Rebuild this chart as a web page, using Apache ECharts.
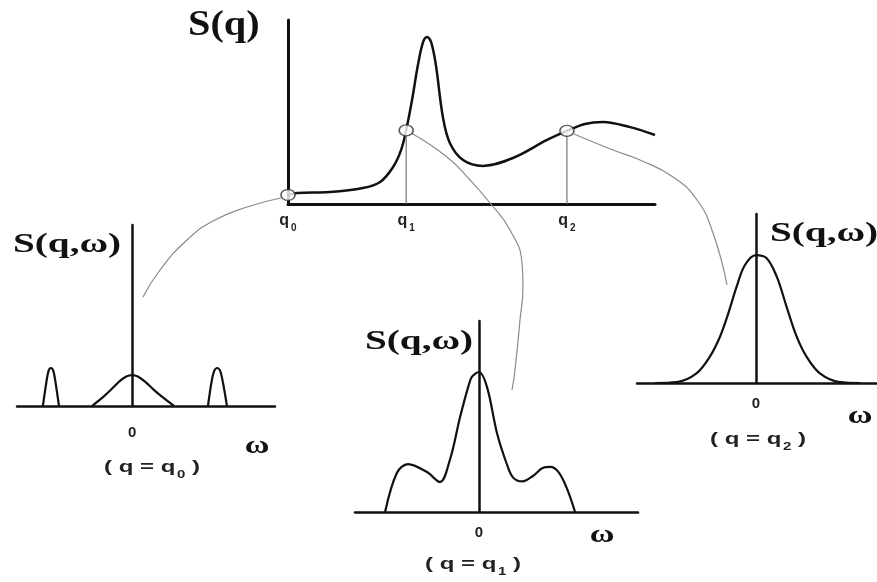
<!DOCTYPE html>
<html>
<head>
<meta charset="utf-8">
<title>S(q) and S(q,ω)</title>
<script src="https://cdn.jsdelivr.net/npm/echarts@6/dist/echarts.min.js"></script>
<style>
  html, body { margin: 0; padding: 0; background: #fff; }
  #chart { width: 877px; height: 582px; }
</style>
</head>
<body>
<div id="chart"></div>
<script>
// static structure factor S(q), q in arbitrary units (q0 = 0)
const sqCurve = [
  [0, 0.49], [0.25, 0.6], [1.14, 0.65], [2.04, 0.87], [2.51, 1.2], [2.86, 2.0],
  [3.08, 2.93], [3.22, 4.02], [3.38, 5.65], [3.54, 7.55], [3.68, 8.8], [3.79, 9.08],
  [3.9, 8.8], [4.03, 7.55], [4.22, 4.73], [4.41, 3.32], [4.77, 2.39], [5.31, 2.07],
  [6.13, 2.5], [7.06, 3.48], [7.6, 3.97], [8.09, 4.35], [8.58, 4.46], [9.32, 4.18],
  [10, 3.75]
]
const qPoints = [[0, 0.49], [3.22, 4.0], [7.6, 3.97]]
const qNames = ['0', '1', '2']

// dynamic structure factor S(q,ω) at q = q0
const sw0Center = [
  [-1.39, 0], [-1.0, 0.5], [-0.7, 0.95], [-0.45, 1.35], [-0.2, 1.63], [0, 1.71],
  [0.2, 1.63], [0.45, 1.35], [0.72, 0.95], [1.05, 0.5], [1.46, 0]
]
const sw0Left = [
  [-3.1, 0], [-2.98, 1.3], [-2.9, 1.95], [-2.82, 2.1], [-2.74, 1.95], [-2.66, 1.3], [-2.54, 0]
]
const sw0Right = [
  [2.64, 0], [2.76, 1.3], [2.86, 1.95], [2.96, 2.1], [3.06, 1.95], [3.16, 1.3], [3.3, 0]
]
// at q = q1
const sw1 = [
  [-3.03, 0], [-2.65, 2.04], [-2.29, 2.51], [-1.68, 2.09], [-1.26, 1.57], [-0.94, 2.72],
  [-0.61, 4.97], [-0.35, 6.54], [-0.23, 7.07], [0, 7.33], [0.26, 6.54], [0.58, 4.14],
  [0.9, 2.5], [1.1, 1.8], [1.4, 1.6], [1.75, 1.9], [2.05, 2.3], [2.3, 2.36],
  [2.56, 2.1], [2.82, 1.3], [3.1, 0]
]
// at q = q2
const sw2 = [
  [-3.4, 0], [-2.67, 0.05], [-2.0, 0.57], [-1.55, 1.56], [-1.21, 2.74], [-0.93, 4.12],
  [-0.65, 5.7], [-0.37, 6.98], [0, 7.57], [0.36, 7.38], [0.7, 6.29], [1.03, 4.51],
  [1.37, 2.74], [1.7, 1.56], [2.15, 0.57], [2.82, 0.05], [3.5, 0]
]

// connector curves, in page units (x right, y down)
const link0 = [[281, 198], [247, 207], [213, 221], [187, 240], [160, 270], [143, 297]]
const link1 = [[411, 133], [447, 157], [470, 180], [490, 203], [510, 230], [522, 263],
  [523, 287], [520, 320], [515, 370], [512, 390]]
const link2 = [[574, 134], [613, 150], [640, 160], [673, 177], [697, 200], [713, 233], [727, 285]]

const chart = echarts.init(document.getElementById('chart'))

const serif = '"Liberation Serif", "DejaVu Serif", serif'
const sans = '"Liberation Sans", Arial, sans-serif'

function axisPair(gridIndex, xmin, xmax, lw, labelMargin) {
  const x = {
    type: 'value', gridIndex, min: xmin, max: xmax,
    axisLine: { lineStyle: { color: '#111', width: lw } },
    axisTick: { show: false },
    splitLine: { show: false },
    axisLabel: {
      customValues: [0], margin: labelMargin, color: '#222',
      fontFamily: sans, fontWeight: 'bold', fontSize: 15
    }
  }
  const y = {
    type: 'value', gridIndex, min: 0, max: 10,
    axisLine: { show: true, lineStyle: { color: '#111', width: lw } },
    axisTick: { show: false }, axisLabel: { show: false },
    splitLine: { show: false }
  }
  return [x, y]
}

const a0 = axisPair(0, 0, 10, 3, 5)
a0[0].axisLabel = {
  customValues: qPoints.map(p => p[0]), margin: 5,
  formatter: v => {
    const i = qPoints.findIndex(p => p[0] === v)
    return '{q|q}{s|' + qNames[i] + '}'
  },
  rich: {
    q: { fontFamily: sans, fontWeight: 'bold', fontSize: 16, color: '#222' },
    s: { fontFamily: sans, fontWeight: 'bold', fontSize: 10, color: '#222', padding: [14, 0, 0, 2] }
  }
}
const a1 = axisPair(1, -4, 4.97, 2.5, 19)
const a2 = axisPair(2, -4, 5.13, 2.5, 13)
const a3 = axisPair(3, -4, 4.07, 2.5, 13)

const overlayX = { type: 'value', gridIndex: 4, min: 0, max: 877, show: false }
const overlayY = { type: 'value', gridIndex: 4, min: 0, max: 582, inverse: true, show: false }

function curve(data, xi, width, color, smooth) {
  return {
    type: 'line', xAxisIndex: xi, yAxisIndex: xi, data,
    smooth: smooth, showSymbol: false, silent: true,
    lineStyle: { color, width }
  }
}

function caption(text, left, top, size, scaleX) {
  return {
    type: 'text', left, top, scaleX: scaleX, z: 100,
    style: { text, font: 'bold ' + size + 'px ' + serif, fill: '#111' }
  }
}
function omega(cx, cy) {
  return {
    type: 'text', x: cx, y: cy, scaleX: 1.3, z: 100,
    style: {
      text: 'ω', font: 'bold 26px ' + serif, fill: '#111',
      align: 'center', verticalAlign: 'middle'
    }
  }
}
function qCaption(n, cx, cy) {
  return {
    type: 'text', x: cx, y: cy, scaleX: 1.5, z: 100,
    style: {
      text: '{c|( q = q}{s|' + n + '}{c| )}',
      align: 'center', verticalAlign: 'middle',
      rich: {
        c: { fontFamily: sans, fontWeight: 'bold', fontSize: 16, fill: '#222' },
        s: { fontFamily: sans, fontWeight: 'bold', fontSize: 10, fill: '#222', padding: [14, 0, 0, 1] }
      }
    }
  }
}

chart.setOption({
  backgroundColor: '#fff',
  animation: false,
  grid: [
    { left: 288, top: 20, width: 367, height: 184 },
    { left: 17, top: 225, width: 258, height: 181 },
    { left: 355, top: 321, width: 283, height: 191 },
    { left: 637, top: 214, width: 240, height: 169 },
    { left: 0, top: 0, width: 877, height: 582 }
  ],
  xAxis: [a0[0], a1[0], a2[0], a3[0], overlayX],
  yAxis: [a0[1], a1[1], a2[1], a3[1], overlayY],
  series: [
    curve(link0, 4, 1.2, '#8a8a8a', true),
    curve(link1, 4, 1.2, '#8a8a8a', true),
    curve(link2, 4, 1.2, '#8a8a8a', true),
    curve(sqCurve, 0, 2.5, '#111', 0.35),
    curve([[qPoints[1][0], 0], qPoints[1]], 0, 1.2, '#777', false),
    curve([[qPoints[2][0], 0], qPoints[2]], 0, 1.2, '#777', false),
    {
      type: 'scatter', xAxisIndex: 0, yAxisIndex: 0, data: qPoints,
      symbol: 'circle', symbolSize: [14, 11], silent: true, z: 5,
      itemStyle: { color: '#fff', borderColor: '#333', borderWidth: 1.5 }
    },
    curve(sw0Center, 1, 2.2, '#111', 0.2),
    curve(sw0Left, 1, 2.2, '#111', 0.3),
    curve(sw0Right, 1, 2.2, '#111', 0.3),
    curve(sw1, 2, 2.2, '#111', 0.35),
    curve(sw2, 3, 2.2, '#111', 0.35)
  ],
  graphic: [
    caption('S(q)', 188, 8, 35, 1.15),
    caption('S(q,ω)', 13, 231, 28, 1.4),
    caption('S(q,ω)', 365, 328, 28, 1.4),
    caption('S(q,ω)', 770, 220, 28, 1.4),
    omega(257, 446),
    omega(602, 535),
    omega(860, 416),
    qCaption('0', 152, 468),
    qCaption('1', 473, 565),
    qCaption('2', 758, 440)
  ]
})
</script>
</body>
</html>
